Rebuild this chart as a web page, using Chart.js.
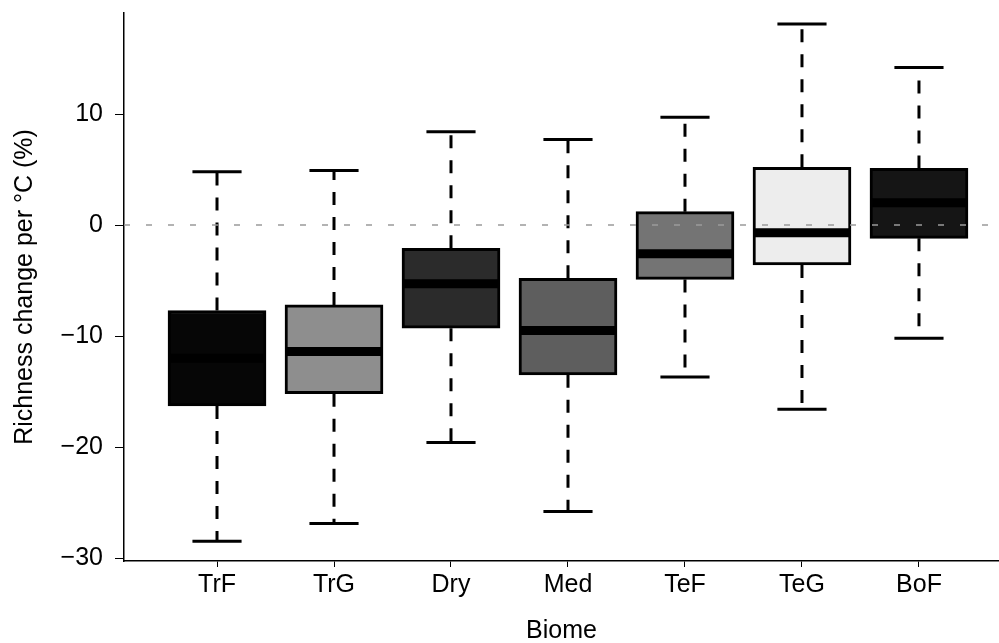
<!DOCTYPE html>
<html>
<head>
<meta charset="utf-8">
<script src="https://cdn.jsdelivr.net/npm/chart.js@4/dist/chart.umd.min.js"></script>
<style>
  html, body { margin: 0; padding: 0; background: #ffffff; }
  #wrap { width: 999px; height: 643px; position: relative; }
</style>
</head>
<body>
<div id="wrap"><canvas id="c" width="999" height="643"></canvas></div>
<script>
// ---- data ----
const categories  = ['TrF', 'TrG', 'Dry', 'Med', 'TeF', 'TeG', 'BoF'];
const whiskerLow  = [-28.5, -26.9, -19.6, -25.8, -13.7, -16.6, -10.2];
const quartile1   = [-16.3, -15.2,  -9.3, -13.5,  -4.9,  -3.6,  -1.2];
const medians     = [-12.0, -11.4,  -5.3,  -9.5,  -2.6,  -0.7,   2.0];
const quartile3   = [ -7.7,  -7.2,  -2.1,  -4.8,   1.2,   5.2,   5.1];
const whiskerHigh = [  4.8,   4.9,   8.4,   7.7,   9.7,  18.1,  14.2];
const yTicks      = [-30, -20, -10, 0, 10];
const referenceY  = 0;

// ---- styles ----
const boxFills = ['#060606', '#8e8e8e', '#2b2b2b', '#5e5e5e', '#747474', '#ededed', '#151515'];
const xMin = 0.205, xMax = 7.684;
const boxHalf = 0.415, capHalf = 0.21;
const FONT = '"Liberation Sans", Arial, Helvetica, sans-serif';
const FS = 25;

// ---- build datasets from the arrays ----
const pos = categories.map((c, i) => i + 1);
const boxData = pos.map((x, i) => ({ x: x, y: [quartile1[i], quartile3[i]] }));
const whiskerData = [];
const capData = [];
const medianData = [];
pos.forEach((x, i) => {
  whiskerData.push({ x: x, y: quartile3[i] }, { x: x, y: whiskerHigh[i] }, { x: x, y: null });
  whiskerData.push({ x: x, y: quartile1[i] }, { x: x, y: whiskerLow[i] }, { x: x, y: null });
  capData.push({ x: x - capHalf, y: whiskerHigh[i] }, { x: x + capHalf, y: whiskerHigh[i] }, { x: x, y: null });
  capData.push({ x: x - capHalf, y: whiskerLow[i] }, { x: x + capHalf, y: whiskerLow[i] }, { x: x, y: null });
  medianData.push({ x: x - boxHalf, y: medians[i] }, { x: x + boxHalf, y: medians[i] }, { x: x, y: null });
});

const lineBase = { type: 'line', pointRadius: 0, pointHoverRadius: 0, fill: false, spanGaps: false, tension: 0 };

new Chart(document.getElementById('c'), {
  type: 'bar',
  data: {
    datasets: [
      Object.assign({}, lineBase, { data: whiskerData, borderColor: '#000', borderWidth: 3, borderDash: [13, 12], borderCapStyle: 'butt', order: 6 }),
      { type: 'bar', data: boxData, backgroundColor: boxFills, borderColor: '#000', borderWidth: 3, borderSkipped: false, barThickness: 98, grouped: false, order: 5 },
      Object.assign({}, lineBase, { data: medianData, borderColor: '#000', borderWidth: 9, borderCapStyle: 'butt', order: 4 }),
      Object.assign({}, lineBase, { data: capData, borderColor: '#000', borderWidth: 3, borderCapStyle: 'butt', order: 3 }),
      Object.assign({}, lineBase, { data: [{ x: xMin, y: referenceY }, { x: xMax, y: referenceY }], borderColor: '#9a9a9a', borderWidth: 1.5, borderDash: [6, 16], order: 1 })
    ]
  },
  options: {
    responsive: false,
    animation: false,
    devicePixelRatio: 1,
    layout: { padding: { top: 13, right: 0, bottom: 0, left: 0 } },
    plugins: { legend: { display: false }, tooltip: { enabled: false } },
    scales: {
      x: {
        type: 'linear',
        min: xMin, max: xMax,
        offset: false,
        afterBuildTicks: s => { s.ticks = pos.map(v => ({ value: v })); },
        afterFit: s => { s.height = 82; s.paddingLeft = 0; s.paddingRight = 0; },
        ticks: { color: '#000', font: { family: FONT, size: FS }, padding: 3, autoSkip: false, maxRotation: 0,
                 callback: v => categories[v - 1] },
        grid: { display: true, drawOnChartArea: false, drawTicks: true, tickLength: 6, color: '#000', lineWidth: 1, offset: false },
        border: { display: true, color: '#000', width: 1.5 },
        title: { display: true, text: 'Biome', color: '#000', font: { family: FONT, size: FS }, padding: { top: 0, bottom: -3 } }
      },
      y: {
        type: 'linear',
        min: -30.27, max: 19.1,
        afterBuildTicks: s => { s.ticks = yTicks.map(v => ({ value: v })); },
        afterFit: s => { s.width = 124; s.paddingTop = 0; s.paddingBottom = 0; },
        ticks: { color: '#000', font: { family: FONT, size: FS }, padding: 12,
                 callback: v => (v < 0 ? '\u2212' + Math.abs(v) : String(v)) },
        grid: { display: true, drawOnChartArea: false, drawTicks: true, tickLength: 9, color: '#000', lineWidth: 1 },
        border: { display: true, color: '#000', width: 1.5 },
        title: { display: true, text: 'Richness change per \u00B0C (%)', color: '#000', font: { family: FONT, size: FS }, padding: { top: 10, bottom: 0 } }
      }
    }
  }
});
</script>
</body>
</html>
